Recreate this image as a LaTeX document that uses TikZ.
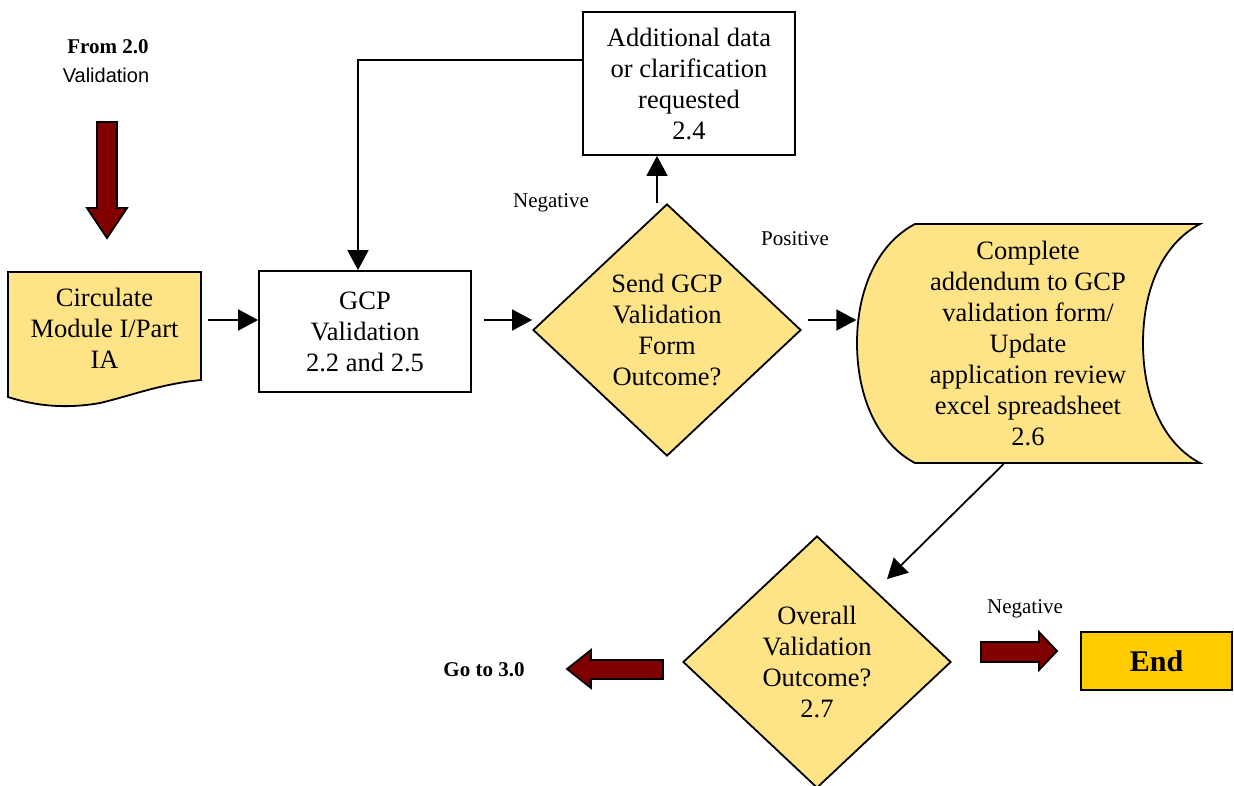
\documentclass[tikz,border=0pt]{standalone}
\usepackage{fontspec}
\setmainfont{Liberation Serif}
\newfontfamily\arialfont{Liberation Sans}
\usetikzlibrary{shapes.geometric,arrows.meta}
\definecolor{pale}{RGB}{255,227,135}
\definecolor{darkred}{RGB}{128,0,0}
\definecolor{endgold}{RGB}{255,204,0}
\tikzset{
  box/.style={draw,line width=1.8pt,align=center,inner sep=0pt,font=\fontsize{26.5}{31}\selectfont},
  plain/.style={align=center,inner sep=0pt,font=\fontsize{26.5}{31}\selectfont},
  decision/.style={diamond,draw,line width=1.8pt,fill=pale,align=center,inner sep=0pt,
    minimum width=268pt,minimum height=252pt,font=\fontsize{26.5}{31}\selectfont},
  lbl/.style={inner sep=0pt,font=\fontsize{21}{25}\selectfont},
  arr/.style={line width=1.8pt,-{Triangle[length=20pt,width=21pt]}},
  blockarrow/.style={draw,line width=1.8pt,fill=darkred,line join=miter},
}
\begin{document}
\begin{tikzpicture}[x=1pt,y=-1pt]
\useasboundingbox (0,0) rectangle (1234,785);

% labels at top left
\node[lbl,font=\fontsize{21}{25}\selectfont\bfseries] (from) at (108,47) {From 2.0};
\node[lbl,font=\fontsize{20}{24}\selectfont\arialfont] (fromval) at (106,75) {Validation};

% down block arrow
\draw[blockarrow] (97,122) -- (117,122) -- (117,208) -- (127,208) -- (107,238)
  -- (87,208) -- (97,208) -- cycle;

% document shape
\draw[line width=1.8pt,fill=pale] (8,272) -- (201,272) -- (201,380)
  .. controls (160,384) and (130,396) .. (100,403)
  .. controls (60,410) and (30,404) .. (8,397) -- cycle;
\node[plain,minimum width=193pt,minimum height=108pt] (circ) at (104.5,328)
  {Circulate\\Module I/Part\\IA};

% GCP validation box
\node[box,minimum width=212pt,minimum height=121pt] (gcp) at (365,331.5)
  {GCP\\Validation\\2.2 and 2.5};

% additional data box
\node[box,minimum width=212pt,minimum height=143pt] (adddata) at (689,83.5)
  {Additional data\\or clarification\\requested\\2.4};

% decision 1
\node[decision] (d1) at (667,330) {Send GCP\\Validation\\Form\\Outcome?};

% stored data shape
\draw[line width=1.8pt,fill=pale] (915,224) -- (1200,224)
  .. controls (1162,244) and (1143,290) .. (1143,343)
  .. controls (1143,396) and (1162,443) .. (1200,463)
  -- (915,463)
  .. controls (877,443) and (857,396) .. (857,343)
  .. controls (857,290) and (877,244) .. (915,224) -- cycle;
\node[plain,minimum width=343pt,minimum height=239pt] (stored) at (1028,343)
  {Complete\\addendum to GCP\\validation form/\\Update\\application review\\excel spreadsheet\\2.6};

% decision 2
\node[decision] (d2) at (817,662) {Overall\\Validation\\Outcome?\\2.7};

% end box
\node[box,fill=endgold,minimum width=151pt,minimum height=58pt,
  font=\fontsize{30}{34}\selectfont\bfseries] (endbox) at (1156.5,661) {End};

% labels
\node[lbl] (neg1) at (551,203) {Negative};
\node[lbl] (pos1) at (795,239) {Positive};
\node[lbl] (neg2) at (1025,609) {Negative};
\node[lbl,font=\fontsize{21}{25}\selectfont\bfseries] (goto) at (484,670) {Go to 3.0};

% block arrows near decision 2
\draw[blockarrow] (663,660) -- (663,679) -- (591,679) -- (591,688) -- (567,669)
  -- (591,650) -- (591,660) -- cycle;
\draw[blockarrow] (981,642) -- (1039,642) -- (1039,632) -- (1057,651)
  -- (1039,670) -- (1039,662) -- (981,662) -- cycle;

% connectors
\draw[arr,shorten <=7pt] ([yshift=8pt]circ.east) -- ([yshift=11.5pt]gcp.west);
\draw[arr,shorten <=12pt] ([yshift=11.5pt]gcp.east) -- ([yshift=10pt]d1.west);
\draw[arr] ([xshift=-10pt]d1.north) -- ([xshift=-32pt]adddata.south);
\draw[arr] ([yshift=23.5pt]adddata.west) -| ([xshift=-7pt]gcp.north);
\draw[arr,shorten <=6pt] ([yshift=10pt]d1.east) -- ([yshift=23pt]stored.west);
\draw[arr,shorten <=2pt] ([xshift=-23pt]stored.south) -- ([xshift=70pt,yshift=-44pt]d2.north);
\end{tikzpicture}
\end{document}
